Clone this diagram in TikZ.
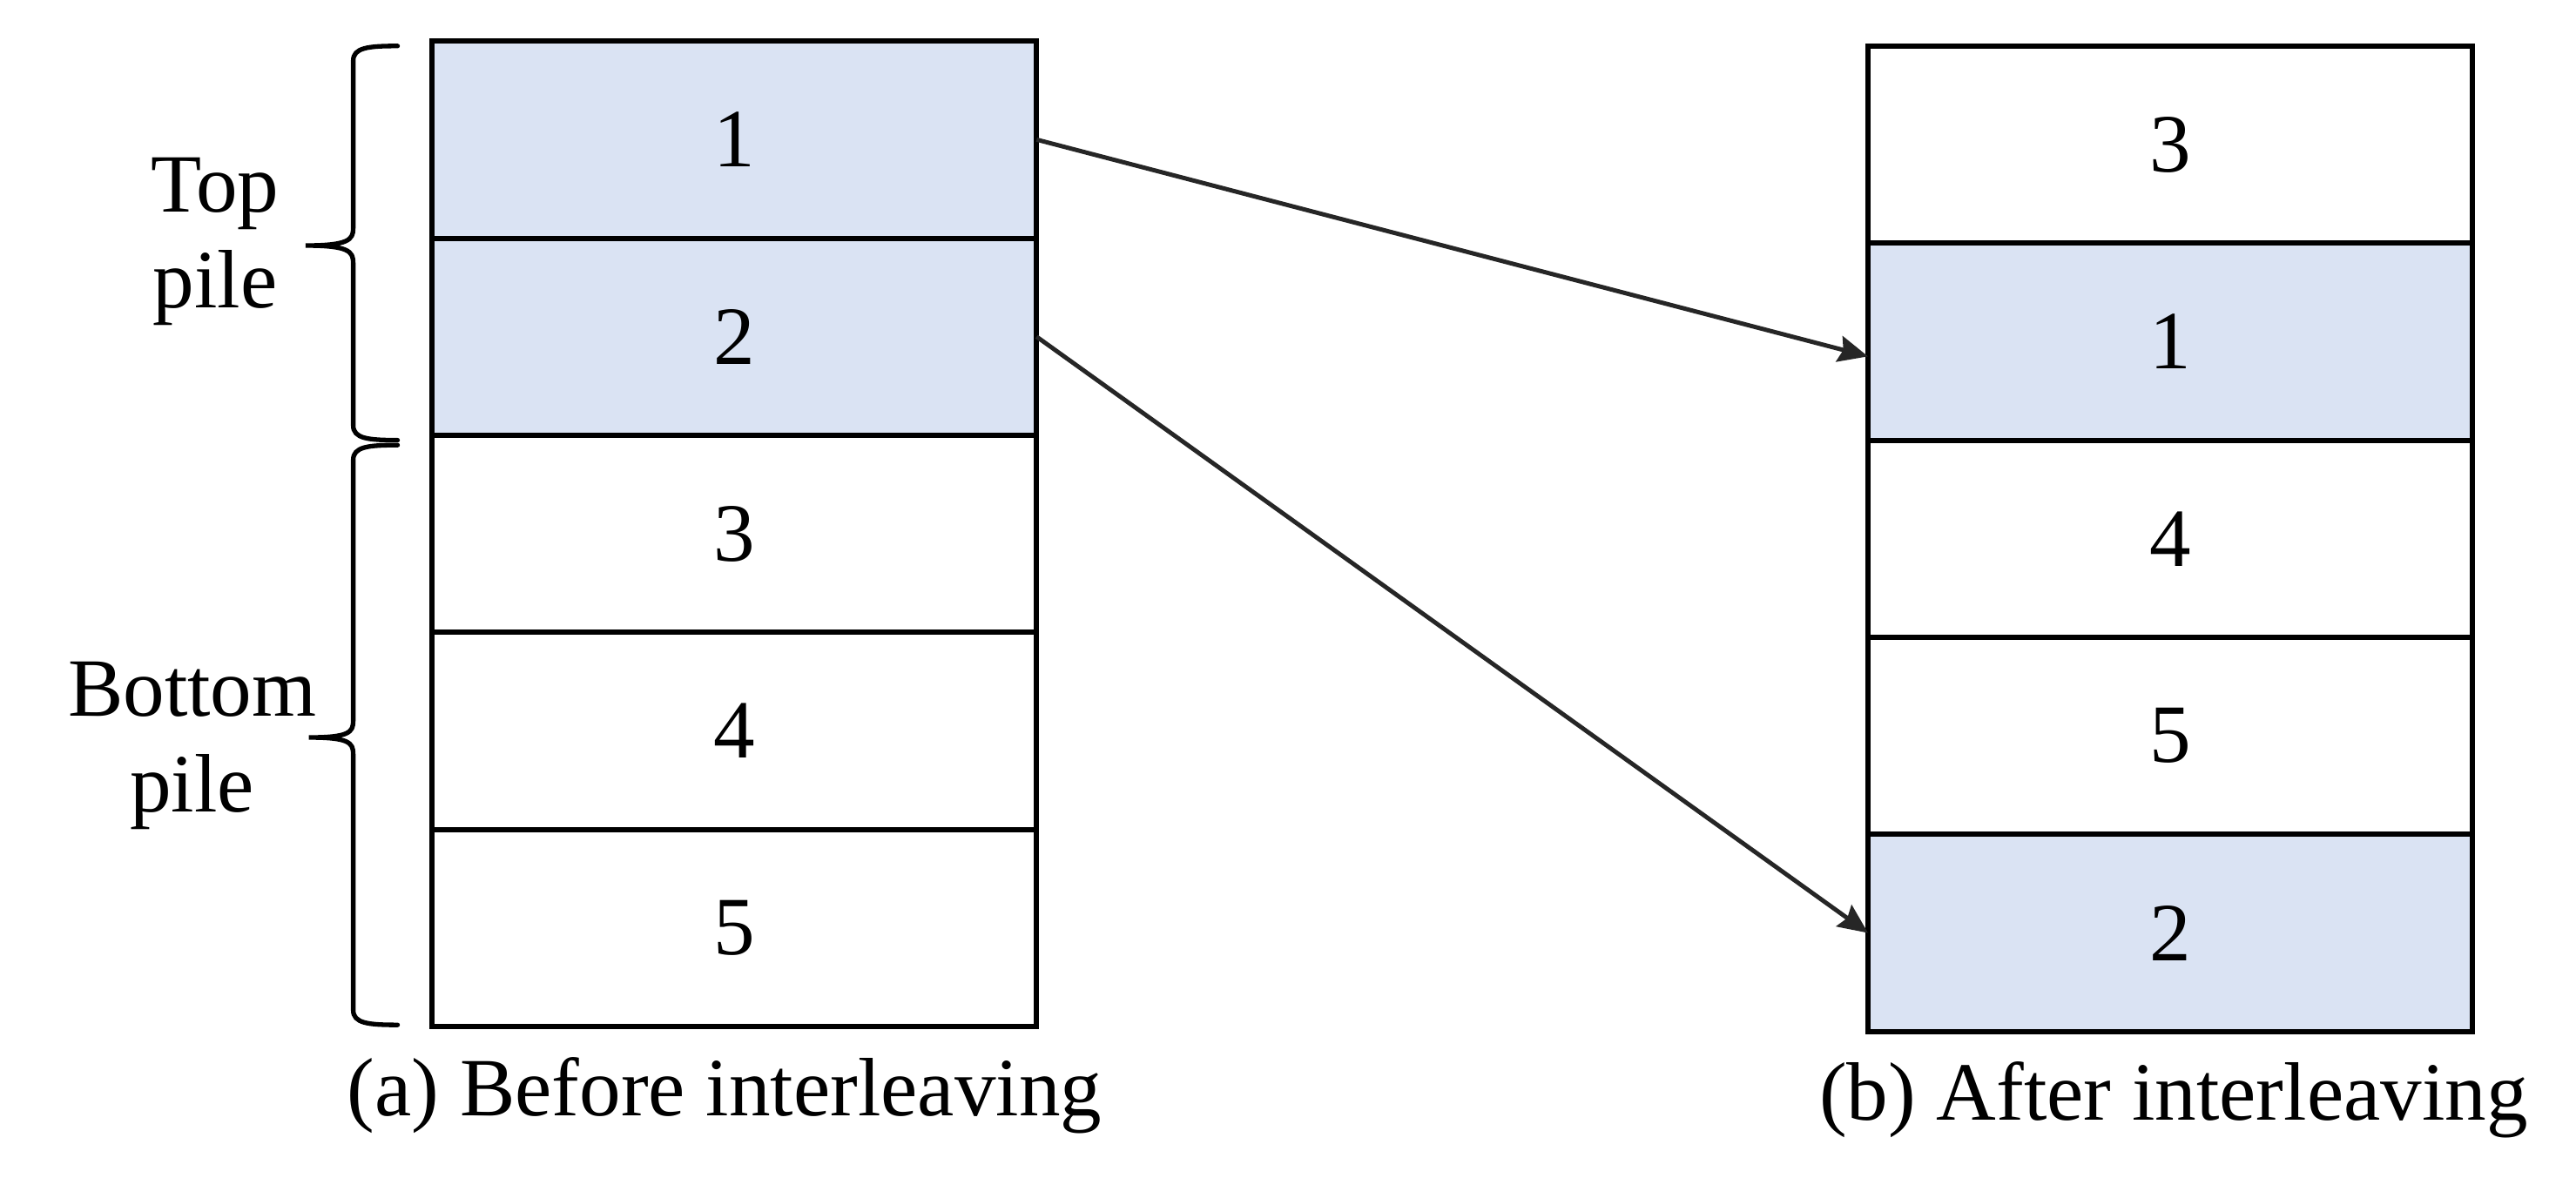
\documentclass[tikz,border=0pt]{standalone}
\usepackage{fontspec}
\setmainfont{Liberation Serif}
\usepackage{xcolor}
\usetikzlibrary{arrows.meta,positioning}
\definecolor{pilefill}{RGB}{218,227,243}
\definecolor{arrowgray}{RGB}{38,38,38}

\tikzset{
  card/.style={draw=black, line width=1.8pt, fill=white, rectangle,
    minimum width=7.36cm, minimum height=2.4cm, inner sep=0pt, outer sep=0pt},
  topcard/.style={card, fill=pilefill},
  pilebrace/.style={line width=1.6pt, line cap=round},
  moveto/.style={-{Stealth[length=0.36cm,width=0.32cm,inset=0.05cm]}, line width=1.5pt, draw=arrowgray}
}

\begin{document}
\begin{tikzpicture}[x=0.02cm,y=0.02cm, every node/.style={font=\fontsize{28.7}{33}\selectfont}]
\fill[white] (0,0) rectangle (1568,717);
\useasboundingbox (0,0) rectangle (1568,717);
% Before interleaving
\foreach \k/\y/\s in {1/632/topcard, 2/512/topcard, 3/392/card, 4/272/card, 5/152/card} {
    \node[\s] (b\k) at (447,\y) {\k};
}
% After interleaving
\foreach \k/\y/\s in {3/629/card, 1/509/topcard, 4/389/card, 5/269/card, 2/149/topcard} {
    \node[\s] (a\k) at (1321,\y) {\k};
}
% Piles
\draw[pilebrace] (242,689) .. controls (224,689) and (215,688) .. (215,680)
    -- (215,578) .. controls (215,571) and (212,567.5) .. (186,567.5)
    .. controls (212,567.5) and (215,564) .. (215,557)
    -- (215,458) .. controls (215,450) and (224,449) .. (242,449);
\draw[pilebrace] (242,446) .. controls (224,446) and (215,445) .. (215,437)
    -- (215,278) .. controls (215,271) and (212,268) .. (188,268)
    .. controls (212,268) and (215,265) .. (215,258)
    -- (215,102) .. controls (215,94) and (224,93) .. (242,93);
\node[align=center] (toppile) at (131,570) {Top\\pile};
\node[align=center] (botpile) at (117,263) {Bottom\\pile};
% Moves
\draw[moveto] (b1.east) -- ([yshift=-0.18cm]a1.west);
\draw[moveto] (b2.east) -- (a2.west);
% Captions
\node[anchor=base] (capa) at (441,37.5) {(a) Before interleaving};
\node[anchor=base] (capb) at (1323,35) {(b) After interleaving};
\end{tikzpicture}
\end{document}
